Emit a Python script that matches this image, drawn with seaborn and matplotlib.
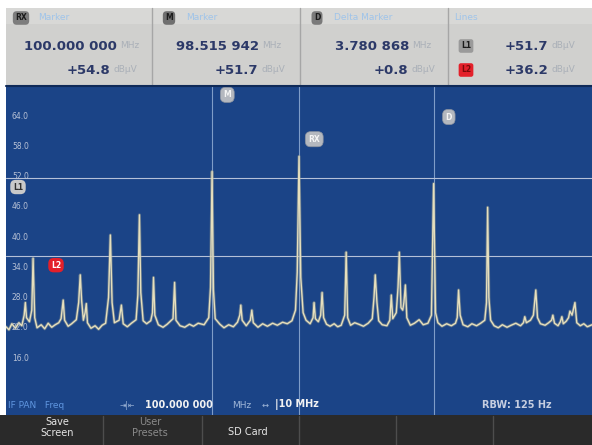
import numpy as np
import pandas as pd
import matplotlib.pyplot as plt
import seaborn as sns
from matplotlib.patches import Rectangle

# IF panorama trace: frequency (MHz) and level (dBuV)
freq_mhz = [
    95.00, 95.05, 95.10, 95.16, 95.22, 95.27, 95.31, 95.33, 95.35, 95.40,
    95.44, 95.462, 95.49, 95.53, 95.60, 95.66, 95.72, 95.78, 95.84, 95.90,
    95.94, 95.976, 96.00, 96.06, 96.12, 96.20, 96.24, 96.267, 96.29, 96.32,
    96.35, 96.37, 96.39, 96.45, 96.52, 96.58, 96.64, 96.70, 96.75, 96.781,
    96.81, 96.85, 96.93, 96.969, 97.00, 97.07, 97.14, 97.22, 97.25, 97.277,
    97.30, 97.34, 97.40, 97.47, 97.50, 97.517, 97.54, 97.60, 97.68, 97.75,
    97.85, 97.877, 97.90, 97.97, 98.05, 98.13, 98.20, 98.28, 98.38, 98.46,
    98.49, 98.516, 98.54, 98.57, 98.65, 98.72, 98.80, 98.88, 98.95, 98.99,
    99.007, 99.03, 99.10, 99.17, 99.195, 99.22, 99.30, 99.38, 99.46, 99.55,
    99.63, 99.72, 99.80, 99.88, 99.94, 99.97, 100.00, 100.03, 100.07, 100.12,
    100.19, 100.24, 100.257, 100.28, 100.33, 100.37, 100.394, 100.42, 100.47, 100.53,
    100.60, 100.66, 100.72, 100.78, 100.805, 100.83, 100.88, 100.95, 101.02, 101.10,
    101.18, 101.25, 101.28, 101.301, 101.33, 101.36, 101.42, 101.50, 101.55, 101.575,
    101.60, 101.66, 101.69, 101.712, 101.74, 101.77, 101.79, 101.815, 101.84, 101.90,
    101.97, 102.05, 102.12, 102.20, 102.26, 102.297, 102.33, 102.37, 102.44, 102.52,
    102.60, 102.67, 102.70, 102.723, 102.75, 102.80, 102.88, 102.95, 103.03, 103.10,
    103.17, 103.20, 103.219, 103.24, 103.27, 103.33, 103.40, 103.47, 103.55, 103.62,
    103.70, 103.78, 103.83, 103.853, 103.88, 103.95, 104.00, 104.041, 104.07, 104.12,
    104.20, 104.26, 104.31, 104.332, 104.36, 104.42, 104.46, 104.486, 104.51, 104.56,
    104.60, 104.623, 104.66, 104.709, 104.74, 104.80, 104.86, 104.92, 105.00,
]
level_dbuv = [
    22.2, 21.6, 22.8, 21.9, 23.0, 22.4, 24.5, 27.0, 24.0, 23.2,
    25.5, 35.8, 24.0, 22.0, 22.6, 21.8, 22.9, 22.1, 22.6, 23.0,
    23.8, 27.5, 23.5, 22.3, 22.8, 23.6, 27.0, 32.5, 27.5, 23.5,
    25.0, 26.8, 23.0, 21.9, 22.4, 21.7, 22.5, 22.9, 28.0, 40.4,
    27.0, 23.0, 23.5, 26.5, 22.8, 22.2, 22.9, 23.6, 28.5, 44.4,
    29.0, 23.4, 22.8, 23.4, 25.0, 32.0, 24.5, 22.6, 22.1, 22.7,
    23.8, 31.0, 23.5, 22.4, 22.1, 22.7, 22.3, 22.9, 22.6, 24.0,
    30.0, 53.0, 29.5, 23.8, 22.7, 22.0, 22.6, 22.2, 23.1, 24.5,
    26.5, 23.5, 22.4, 23.5, 25.5, 23.0, 22.1, 22.8, 22.3, 22.9,
    22.5, 23.1, 22.8, 23.4, 25.5, 33.0, 56.0, 32.0, 25.0, 23.5,
    22.8, 24.0, 27.0, 23.8, 23.2, 24.5, 29.0, 24.0, 22.7, 22.3,
    22.8, 22.2, 22.5, 24.5, 37.0, 24.0, 22.5, 23.0, 22.7, 22.3,
    22.9, 23.8, 28.0, 32.5, 27.0, 23.4, 22.6, 22.4, 23.5, 28.5,
    23.8, 25.0, 30.0, 37.0, 26.0, 25.5, 27.0, 30.5, 24.0, 22.5,
    22.9, 23.6, 22.6, 22.9, 24.5, 50.6, 25.0, 23.0, 22.3, 22.8,
    22.4, 22.9, 24.0, 29.5, 24.5, 22.6, 22.2, 22.8, 22.4, 22.9,
    23.5, 27.0, 45.9, 28.0, 23.5, 22.4, 22.0, 22.6, 22.1, 22.5,
    22.9, 22.4, 23.0, 24.2, 23.0, 23.5, 24.5, 29.5, 24.0, 22.8,
    22.5, 23.0, 23.5, 24.5, 22.9, 22.4, 23.2, 24.2, 22.8, 23.3,
    24.0, 25.3, 24.5, 27.0, 23.0, 22.4, 22.8, 22.2, 22.6,
]

y_ticks = [64.0, 58.0, 52.0, 46.0, 40.0, 34.0, 28.0, 22.0, 16.0]
start_mhz, stop_mhz = 95.0, 105.0

marker_names = ['M', 'RX', 'D']
marker_mhz = [98.515942, 100.0, 98.515942 + 3.780868]
marker_badge_dbuv = [68.2, 59.4, 63.8]

line_names = ['L1', 'L2']
line_dbuv = [51.7, 36.2]

# header readouts
hdr_badges = ['RX', 'M', 'D']
hdr_titles = ['Marker', 'Marker', 'Delta Marker', 'Lines']
hdr_freqs = ['100.000 000', '98.515 942', '3.780 868']
hdr_levels = ['+54.8', '+51.7', '+0.8']
hdr_lines = ['+51.7', '+36.2']

W, H = 592, 445
BLUE = '#1b4487'

sns.set_theme(style='dark')
plt.rcParams['font.family'] = ['DejaVu Sans']

fig = plt.figure(figsize=(W / 100, H / 100), dpi=100)
fig.patch.set_facecolor('white')

# spectrum display
ax = fig.add_axes([6 / W, 1 - 415 / H, 586 / W, 330 / H])
ax.set_facecolor(BLUE)
df = pd.DataFrame({'freq': freq_mhz, 'level': level_dbuv})
# soft glow under the trace, then the trace itself
sns.lineplot(data=df, x='freq', y='level', ax=ax, color='#a9a98f', lw=2.2, alpha=0.45, zorder=3)
sns.lineplot(data=df, x='freq', y='level', ax=ax, color='#e6dfbd', lw=1.0, zorder=3)
ax.set_xlim(start_mhz, stop_mhz)
ax.set_ylim(4.7, 70.15)
ax.set_xticks([])
ax.set_yticks([])
ax.grid(False)
ax.set_xlabel('')
ax.set_ylabel('')
for s in ax.spines.values():
    s.set_visible(False)

for v in y_ticks:
    ax.text(0.01, v, f'{v:.1f}', transform=ax.get_yaxis_transform(),
            ha='left', va='center', fontsize=5.5, color='#b8c2d6', zorder=4)

for name, f, yb in zip(marker_names, marker_mhz, marker_badge_dbuv):
    ax.axvline(f, color='#7f9dc8', lw=0.8, zorder=2)
    ax.text(f + 0.26, yb, name, ha='center', va='center', fontsize=5.5,
            weight='bold', color='#f4f4f4', zorder=5,
            bbox=dict(boxstyle='round,pad=0.4,rounding_size=0.7', fc='#b4b8bf', ec='#8c93a0', lw=0.5))

for name, lvl in zip(line_names, line_dbuv):
    ax.axhline(lvl, color='#b5c1d8', lw=0.8, zorder=2)
badge_style = {'L1': ('#c9c9c9', '#303030', 12), 'L2': ('#e3202a', 'white', 50)}
for name, lvl in zip(line_names, line_dbuv):
    fc, tc, dx = badge_style[name]
    ax.annotate(name, xy=(0, lvl), xycoords=('axes fraction', 'data'),
                xytext=(dx, -9), textcoords='offset pixels', ha='center', va='center',
                fontsize=5.5, weight='bold', color=tc, zorder=5,
                bbox=dict(boxstyle='round,pad=0.35,rounding_size=0.7', fc=fc, ec='none'))

# overlay for the instrument chrome, in pixel units
ov = fig.add_axes([0, 0, 1, 1])
ov.set_xlim(0, W)
ov.set_ylim(H, 0)
ov.axis('off')

ov.add_patch(Rectangle((6, 8), 586, 77, fc='#d0d0ce', ec='none'))
ov.add_patch(Rectangle((6, 8), 586, 16, fc='#d8d8d6', ec='none'))
for xs in [152, 300, 448]:
    ov.plot([xs, xs], [8, 85], color='#a6a6a6', lw=1)
ov.plot([6, 592], [85.5, 85.5], color='#0f2a58', lw=1.5)

sec_x = [6, 154, 302, 450]
badge_fc = ['#7d7d7d', '#6f6f6f', '#7a7a7a']
for i, b in enumerate(hdr_badges):
    x0 = sec_x[i]
    ov.text(x0 + 15, 18, b, ha='center', va='center', fontsize=5.5, weight='bold', color='#1b1b1b',
            bbox=dict(boxstyle='round,pad=0.3,rounding_size=0.5', fc=badge_fc[i], ec='none'))
for i, t in enumerate(hdr_titles):
    ov.text(sec_x[i] + 32 if i < 3 else sec_x[i] + 4, 18, t, ha='left', va='center',
            fontsize=6.5, color='#9fc4ea')

val_right = [117, 259, 409]
lvl_right = [110, 258, 408]
for i in range(3):
    ov.text(val_right[i], 46, hdr_freqs[i], ha='right', va='center', fontsize=9.5,
            weight='bold', color='#2c3968')
    ov.text(val_right[i] + 3, 46, 'MHz', ha='left', va='center', fontsize=6.5, color='#aab0b8')
    ov.text(lvl_right[i], 70, hdr_levels[i], ha='right', va='center', fontsize=9.5,
            weight='bold', color='#2c3968')
    ov.text(lvl_right[i] + 4, 70, 'dBµV', ha='left', va='center', fontsize=6.5, color='#aab0b8')

for j, (name, txt) in enumerate(zip(line_names, hdr_lines)):
    yy = 46 + 24 * j
    fc, tc = ('#9a9a9a', '#1b1b1b') if j == 0 else ('#e3202a', '#7a0a0a')
    ov.text(466, yy, name, ha='center', va='center', fontsize=5.5, weight='bold', color=tc,
            bbox=dict(boxstyle='round,pad=0.3,rounding_size=0.3', fc=fc, ec='none'))
    ov.text(548, yy, txt, ha='right', va='center', fontsize=9.5, weight='bold', color='#2c3968')
    ov.text(552, yy, 'dBµV', ha='left', va='center', fontsize=6.5, color='#aab0b8')

# status line
ov.text(8, 405, 'IF PAN   Freq', ha='left', va='center', fontsize=6.5, color='#5f96e0')
ov.text(120, 405, '⇥|⇤', ha='left', va='center', fontsize=5.5, color='#9fb6d8')
ov.text(145, 405, '100.000 000', ha='left', va='center', fontsize=7, weight='bold', color='#f2f2f2')
ov.text(232, 405, 'MHz', ha='left', va='center', fontsize=6.5, color='#9fb6d8')
ov.text(262, 405, '↔', ha='left', va='center', fontsize=6, color='#9fb6d8')
ov.text(275, 405, '|10 MHz', ha='left', va='center', fontsize=7, weight='bold', color='#f2f2f2')
ov.text(482, 405, 'RBW: 125 Hz', ha='left', va='center', fontsize=7, weight='bold', color='#c5cde0')

# softkey bar
ov.add_patch(Rectangle((0, 415), W, 30, fc='#2a2a2a', ec='none'))
for xs in [103, 202, 299, 396, 493]:
    ov.plot([xs, xs], [416, 445], color='#4d4d4d', lw=1)
ov.text(57, 417, 'Save\nScreen', ha='center', va='top', fontsize=7, color='#e6e6e6', linespacing=1.15)
ov.text(150, 417, 'User\nPresets', ha='center', va='top', fontsize=7, color='#8a8a8a', linespacing=1.15)
ov.text(248, 432, 'SD Card', ha='center', va='center', fontsize=7, color='#e6e6e6')

fig.savefig('out.png', dpi=100)
